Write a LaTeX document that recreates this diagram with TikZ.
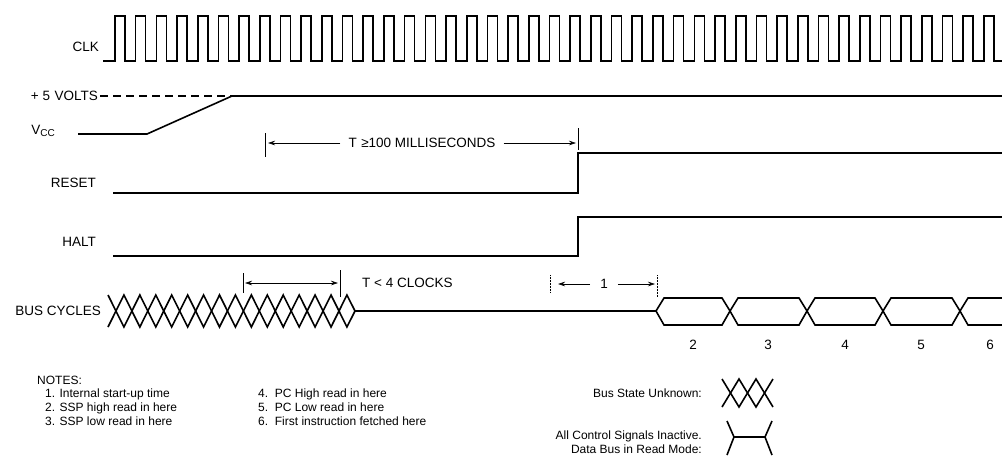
\documentclass[tikz,border=0pt]{standalone}
\usepackage{fontspec}
\setmainfont{Liberation Sans}
\usetikzlibrary{arrows.meta}
\tikzset{
  sig/.style={line width=1.6pt},
  tick/.style={line width=0.5pt},
  dim/.style={line width=0.6pt,-{Stealth[length=7pt,width=4.5pt]}},
  lbl/.style={anchor=east,inner sep=0pt,font=\fontsize{13.5}{15}\selectfont},
  txt/.style={inner sep=0pt,font=\fontsize{13.5}{15}\selectfont},
  note/.style={anchor=west,inner sep=0pt,align=left,font=\fontsize{12}{14}\selectfont}
}
\begin{document}
\begin{tikzpicture}[x=1pt,y=-1pt]
		\useasboundingbox (0,0) rectangle (1002,464);
		% signal names
			\node[lbl] (clk) at (99,47) {CLK};
			\node[lbl] (volts) at (98,96) {+ 5\,\,VOLTS};
			\node[lbl] (vcc) at (55,131) {V\raisebox{-2.5pt}{\fontsize{10}{11}\selectfont CC}};
			\node[lbl] (reset) at (96,183) {RESET};
			\node[lbl] (halt) at (96,242) {HALT};
			\node[lbl] (bus) at (101,311) {BUS CYCLES};
		% clock
		\draw[sig] (103,61) foreach \k in {0,...,42} { -- ({115+20.69*\k},61) -- ++(0,-45) -- ++(10,0) -- ++(0,45) } -- (1002,61);
		% supply
		\draw[sig,dash pattern=on 8pt off 5pt] (100,96) -- (232,96);
		\draw[sig] (232,96) -- (1002,96);
		\draw[sig] (78,134) -- (147,134) -- (232,96);
		% reset and halt
		\draw[sig] (113,193) -- (578,193) -- (578,153) -- (1002,153);
		\draw[sig] (113,256) -- (578,256) -- (578,217) -- (1002,217);
		% T >= 100 ms
		\coordinate (ta) at (265,143);
		\coordinate (tb) at (578,143);
		\draw[tick] (265,133) -- (265,157);
		\draw[tick] (578,128) -- (578,150);
		\node[txt] (tms) at (422,143) {T\,\,≥100 MILLISECONDS};
		\draw[dim] ([xshift=-8pt]tms.west) -- ([xshift=3pt]ta);
		\draw[dim] ([xshift=8pt]tms.east) -- ([xshift=-2pt]tb);
		% bus state unknown
		\draw[sig] (108,295) foreach \k in {1,...,15} { -- ({108+15.93*\k},{311-16*cos(180*\k)}) } -- (355,311);
		\draw[sig] (108,327) foreach \k in {1,...,15} { -- ({108+15.93*\k},{311+16*cos(180*\k)}) } -- (355,311);
		\draw[sig] (355,311) -- (656,311);
		% T < 4 clocks
		\coordinate (ca) at (243,283);
		\coordinate (cb) at (340,283);
		\draw[tick] (243,273) -- (243,293);
		\draw[tick] (340,270) -- (340,297);
		\draw[dim,{Stealth[length=7pt,width=4.5pt]}-{Stealth[length=7pt,width=4.5pt]}] ([xshift=2pt]ca) -- ([xshift=-2pt]cb);
		\node[txt,anchor=west] (tclk) at (362,283) {T < 4 CLOCKS};
		% note 1 interval
		\coordinate (ia) at (550,284);
		\coordinate (ib) at (657,284);
		\draw[tick,densely dotted] (550,275) -- (550,292);
		\draw[tick,densely dotted] (657,275) -- (657,297);
		\node[txt] (one) at (604,284) {1};
		\draw[dim] ([xshift=-10pt]one.west) -- ([xshift=8pt]ia);
		\draw[dim] ([xshift=10pt]one.east) -- ([xshift=-2pt]ib);
		% bus cycles 2..6
		\foreach \a/\b in {656/730,730/807,807/883,883/960}
			\draw[sig] (\a,311) -- (\a+8,298) -- (\b-8,298) -- (\b,311) -- (\b-8,325) -- (\a+8,325) -- cycle;
		\draw[sig] (1002,298) -- (968,298) -- (960,311) -- (968,325) -- (1002,325);
		\foreach \n/\x in {2/693,3/768,4/845,5/921,6/990}
			\node[txt] (c\n) at (\x,345) {\n};
		% notes
			\node[note] (notes) at (37,380) {NOTES:};
			\node[note,anchor=north west] (na) at (45,389) {1. Internal start-up time\\2. SSP high read in here\\3. SSP low read in here};
			\node[note,anchor=north west] (nb) at (258,389) {4.\ \ PC High read in here\\5.\ \ PC Low read in here\\6.\ \ First instruction fetched here};
		% legend
			\node[note,anchor=east] (lunk) at (702,393) {Bus State Unknown:};
			\node[note,anchor=east,align=right] (linact) at (702,442) {All Control Signals Inactive.\\Data Bus in Read Mode:};
		\draw[sig] (722,379) foreach \k in {1,2,3} { -- ({722+17*\k},{393-14*cos(180*\k)}) };
		\draw[sig] (722,407) foreach \k in {1,2,3} { -- ({722+17*\k},{393+14*cos(180*\k)}) };
		\draw[sig] (727,421) -- (734,437) -- (727,455);
		\draw[sig] (734,437) -- (765,437);
		\draw[sig] (772,421) -- (765,437) -- (772,455);
	\end{tikzpicture}
\end{document}
